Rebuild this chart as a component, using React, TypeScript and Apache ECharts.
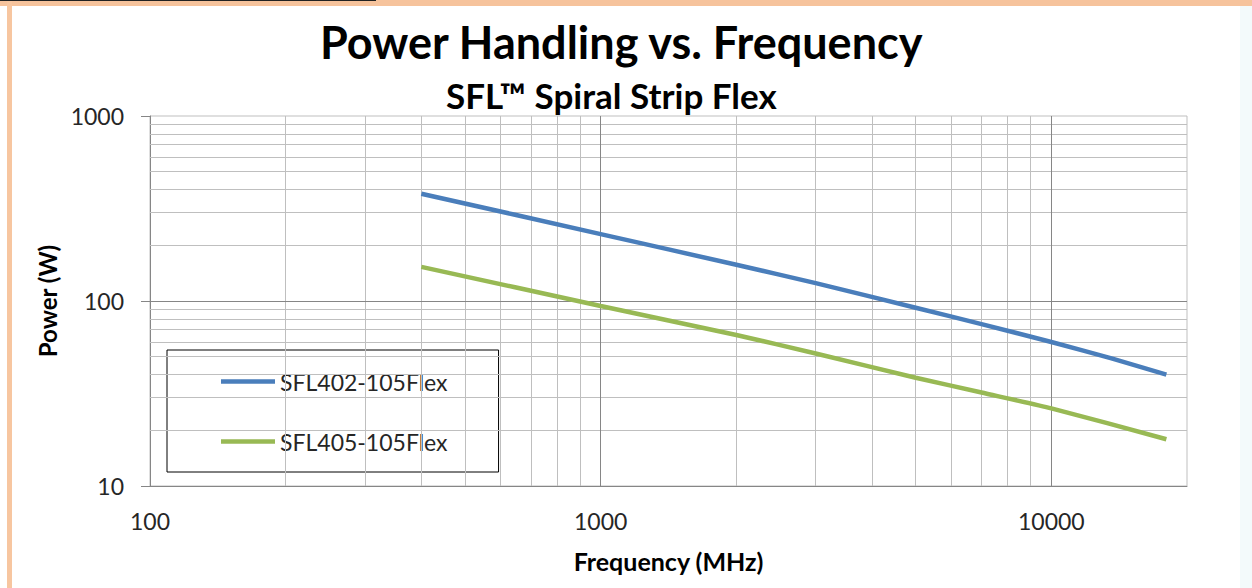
import React, { useEffect, useRef } from 'react';
import * as echarts from 'echarts';

const seriesNames = ['SFL402-105Flex', 'SFL405-105Flex'];
const freq402 = [400, 1000, 2000, 3000, 5000, 7000, 10000, 13600, 18000];
const power402 = [380, 230, 157, 125, 92, 75, 60, 49, 40];
const freq405 = [400, 1000, 2000, 3000, 5000, 7000, 10000, 18000];
const power405 = [153, 94, 65.5, 52, 38.5, 32, 26.3, 17.9];
const xTickLabels = ['100', '1000', '10000'];
const yTickLabels = ['10', '100', '1000'];
const xMajorGrid = [1000, 10000];
const xMinorGrid = [200, 300, 400, 500, 600, 700, 800, 900, 2000, 3000, 4000, 5000, 6000, 7000, 8000, 9000];
const yMajorGrid = [100];
const yMinorGrid = [20, 30, 40, 50, 60, 70, 80, 90, 200, 300, 400, 500, 600, 700, 800, 900];

const FONT = 'Lato';

export default function App() {
  const ref = useRef<HTMLDivElement>(null);
  useEffect(() => {
    if (!ref.current) return;
    const chart = echarts.init(ref.current, null, { renderer: 'svg' });
    const pairs = (xs: number[], ys: number[]) => xs.map((x, i) => [x, ys[i]]);
    const gridLineSeries = (name: string, xs: number[], ys: number[], color: string, z: number) => ({
      name,
      type: 'line',
      data: [],
      z,
      silent: true,
      markLine: {
        silent: true,
        symbol: ['none', 'none'],
        label: { show: false },
        emphasis: { disabled: true },
        lineStyle: { color, width: 1, type: 'solid' },
        data: [...xs.map((v) => ({ xAxis: v })), ...ys.map((v) => ({ yAxis: v }))],
      },
    });
    chart.setOption({
      animation: false,
      backgroundColor: '#ffffff',
      graphic: [
        { type: 'rect', shape: { x: 0, y: 0, width: 1252, height: 6 }, style: { fill: '#F6C39C' }, z: 100 },
        { type: 'rect', shape: { x: 0, y: 0, width: 376, height: 1 }, style: { fill: '#222222' }, z: 101 },
        { type: 'rect', shape: { x: 7, y: 0, width: 5, height: 588 }, style: { fill: '#F7C6A0' }, z: 100 },
        { type: 'rect', shape: { x: 1240, y: 6, width: 12, height: 582 }, style: { fill: '#F3FAFB' }, z: 0 },
      ],
      title: [
        {
          text: 'Power Handling vs. Frequency',
          left: 320,
          top: 19,
          padding: 0,
          textStyle: { fontFamily: FONT, fontWeight: 'bold', fontSize: 45, color: '#000' },
        },
        {
          text: 'SFL™ Spiral Strip Flex',
          left: 446,
          top: 77,
          padding: 0,
          textStyle: { fontFamily: FONT, fontWeight: 'bold', fontSize: 35, color: '#000' },
        },
      ],
      legend: {
        data: seriesNames,
        orient: 'vertical',
        left: 167,
        top: 350,
        itemWidth: 54,
        itemHeight: 20,
        itemGap: 37,
        icon: 'path://M0,0H54V4.5H0Z',
        padding: [20, 51, 19, 54],
        borderColor: '#000',
        borderWidth: 1,
        borderRadius: 0,
        backgroundColor: '#fff',
        selectedMode: false,
        textStyle: { fontFamily: FONT, fontSize: 23, color: '#262626' },
      },
      grid: {
        left: 150,
        right: 65,
        top: 116,
        bottom: 102,
        show: true,
        borderColor: '#BFBFBF',
        borderWidth: 1,
        backgroundColor: '#fff',
      },
      xAxis: {
        type: 'log',
        logBase: 10,
        min: 100,
        max: 20000,
        name: 'Frequency (MHz)',
        nameLocation: 'middle',
        nameGap: 62,
        nameTextStyle: { fontFamily: FONT, fontWeight: 'bold', fontSize: 25, color: '#000' },
        axisLine: { show: true, lineStyle: { color: '#868686', width: 1 } },
        axisTick: { show: false },
        splitLine: { show: false },
        axisLabel: {
          margin: 23,
          fontFamily: FONT,
          fontSize: 23,
          color: '#262626',
          formatter: (v: number) => {
            const s = String(Math.round(v));
            return xTickLabels.includes(s) ? s : '';
          },
        },
      },
      yAxis: {
        type: 'log',
        logBase: 10,
        min: 10,
        max: 1000,
        name: 'Power (W)',
        nameLocation: 'middle',
        nameGap: 90,
        nameTextStyle: { fontFamily: FONT, fontWeight: 'bold', fontSize: 24, color: '#000' },
        axisLine: { show: true, lineStyle: { color: '#868686', width: 1 } },
        axisTick: { show: true, inside: false, length: 9, lineStyle: { color: '#868686' } },
        splitLine: { show: false },
        axisLabel: {
          margin: 26,
          fontFamily: FONT,
          fontSize: 23,
          color: '#262626',
          formatter: (v: number) => {
            const s = String(Math.round(v));
            return yTickLabels.includes(s) ? s : '';
          },
        },
      },
      series: [
        gridLineSeries('minorGrid', xMinorGrid, yMinorGrid, '#BFBFBF', 1),
        gridLineSeries('majorGrid', xMajorGrid, yMajorGrid, '#868686', 2),
        {
          name: seriesNames[0],
          type: 'line',
          data: pairs(freq402, power402),
          showSymbol: false,
          symbol: 'none',
          smooth: 0.2,
          z: 5,
          lineStyle: { color: '#4A7EBB', width: 4.5 },
          itemStyle: { color: '#4A7EBB' },
        },
        {
          name: seriesNames[1],
          type: 'line',
          data: pairs(freq405, power405),
          showSymbol: false,
          symbol: 'none',
          smooth: 0.2,
          z: 5,
          lineStyle: { color: '#98B954', width: 4.5 },
          itemStyle: { color: '#98B954' },
        },
      ],
    });
    return () => chart.dispose();
  }, []);
  return (
    <div
      ref={ref}
      style={{ position: 'fixed', left: 0, top: 0, width: 1252, height: 588, background: '#fff' }}
    />
  );
}
